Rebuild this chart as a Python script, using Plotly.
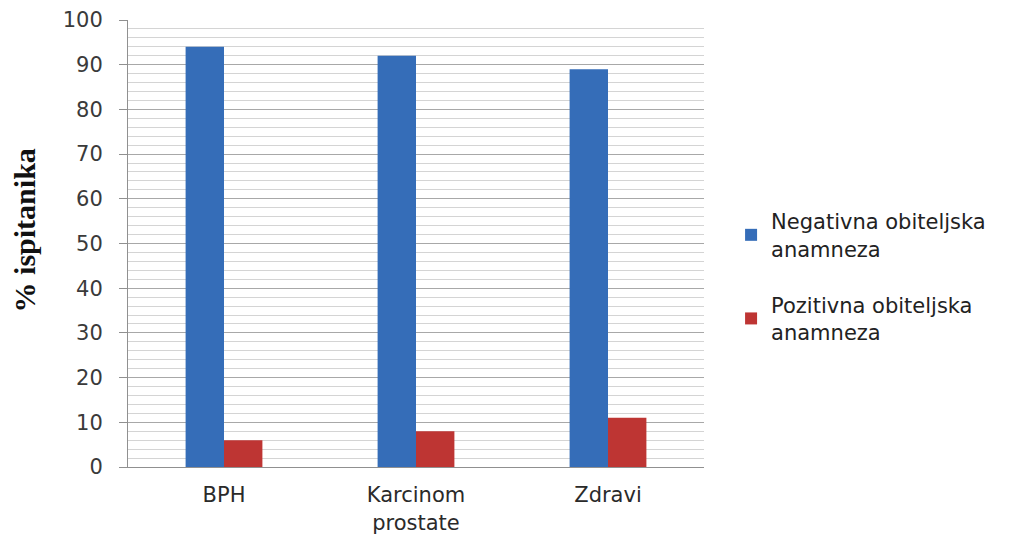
import plotly.graph_objects as go

categories = ["BPH", "Karcinom<br>prostate", "Zdravi"]
negativna = [94, 92, 89]
pozitivna = [6, 8, 11]
series_names = ["Negativna obiteljska<br>anamneza", "Pozitivna obiteljska<br>anamneza"]
y_ticks = [0, 10, 20, 30, 40, 50, 60, 70, 80, 90, 100]
y_title = "<b>% ispitanika</b>"

fig = go.Figure()
fig.add_trace(go.Bar(x=categories, y=negativna, name=series_names[0], legendgroup="neg",
                     marker=dict(color="#356DB8", line=dict(width=0))))
fig.add_trace(go.Bar(x=categories, y=pozitivna, name=series_names[1], legendgroup="poz",
                     marker=dict(color="#BE3533", line=dict(width=0))))

fig.update_layout(
    width=1016, height=541,
    margin=dict(l=120, r=320, t=12, b=82, autoexpand=False),
    plot_bgcolor="white", paper_bgcolor="white",
    barmode="group", bargap=0.6, bargroupgap=0,
    font=dict(family="DejaVu Sans", color="#3a3a3a"),
    legend=dict(x=1.047, y=0.425, xanchor="left", yanchor="middle",
                font=dict(size=21, color="#222222", family="DejaVu Sans"),
                tracegroupgap=26, itemsizing="constant"),
    showlegend=True,
    annotations=[dict(text=y_title, textangle=-90, xref="paper", yref="paper",
                      x=-0.18, y=0.53, xanchor="center", yanchor="middle",
                      showarrow=False,
                      font=dict(family="Liberation Serif", size=30, color="#111111"))],
)
fig.update_yaxes(
    range=[0, 100], tickvals=y_ticks, ticks="outside", ticklen=8,
    tickcolor="#909090", showline=True, linecolor="#909090", linewidth=1,
    showgrid=True, gridcolor="#A8A8A8", gridwidth=1,
    minor=dict(dtick=2, showgrid=True, gridcolor="#D4D4D4", gridwidth=1),
    tickfont=dict(size=21, color="#3a3a3a", family="DejaVu Sans"),
    ticklabelstandoff=12,
    zeroline=False, automargin=False,
)
fig.update_xaxes(
    showline=True, linecolor="#909090", linewidth=1,
    tickfont=dict(size=21, color="#2a2a2a", family="DejaVu Sans"),
    ticks="outside", ticklen=9, tickcolor="rgba(0,0,0,0)",
    automargin=False,
)

fig.write_html("out.html")
